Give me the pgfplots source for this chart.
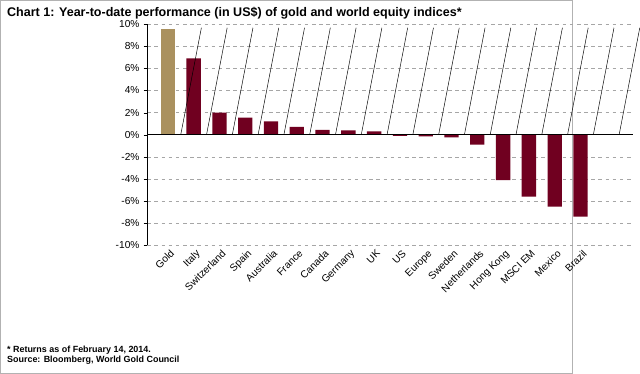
\documentclass[border=0pt]{standalone}
\usepackage{pgfplots}
\pgfplotsset{compat=1.18}
\usepackage{fontspec}
\setmainfont{Liberation Sans}
\definecolor{gold}{RGB}{170,145,95}
\definecolor{wine}{RGB}{112,0,32}
\begin{document}
\begin{tikzpicture}[x=0.75pt,y=0.75pt]
\draw[gray!60,fill=white] (0,0) rectangle (639,417);
\node[anchor=north west,font=\bfseries\fontsize{10.5}{12}\selectfont] at (3,414) {Chart 1: Year-to-date performance (in US\$) of gold and world equity indices*};
\node[anchor=north west,align=left,font=\bfseries\fontsize{7.5}{8.5}\selectfont] at (3,36) {* Returns as of February 14, 2014.\\Source: Bloomberg, World Gold Council};
\begin{axis}[at={(57,116)},anchor=south west,scale only axis,
 width=407.25pt,height=185.25pt,
 xmin=-0.8,xmax=18.05,ymin=-10,ymax=10,
 ytick={-10,-8,...,10},
 yticklabel={\pgfmathprintnumber{\tick}\%},
 /pgf/number format/assume math mode=true,
 ymajorgrids,grid style={dashed,gray!70},
 axis x line*=bottom, x axis line style={draw=none},
 axis y line*=left,
 y axis line style={black}, ytick style={black},
 tick align=outside, major tick length=3pt,
 ticklabel style={font=\fontsize{8.5}{10}\selectfont},
 xtick={0,...,16}, xtick style={draw=none},
 xticklabels={Gold,Italy,Switzerland,Spain,Australia,France,Canada,Germany,UK,US,Europe,Sweden,Netherlands,Hong Kong,MSCI EM,Mexico,Brazil},
 xticklabel style={rotate=45,anchor=north east,inner sep=1pt,xshift=2pt},
 clip=false,
 ybar, bar width=12pt,
]
\addplot[fill=gold,draw=none,bar shift=0pt] coordinates {(0,9.6)};
\addplot[fill=wine,draw=none,bar shift=0pt] coordinates {(1,6.9)(2,2.0)(3,1.55)(4,1.2)(5,0.7)(6,0.45)(7,0.4)(8,0.3)(9,-0.1)(10,-0.15)(11,-0.25)(12,-0.9)(13,-4.1)(14,-5.6)(15,-6.5)(16,-7.4)};
\draw[black] (axis cs:-0.8,0) -- (axis cs:18.05,0);
\pgfplotsinvokeforeach{0,...,17}{\draw (axis cs:#1+0.5,0) -- ++(0,-3pt);}
\end{axis}
\end{tikzpicture}
\end{document}
